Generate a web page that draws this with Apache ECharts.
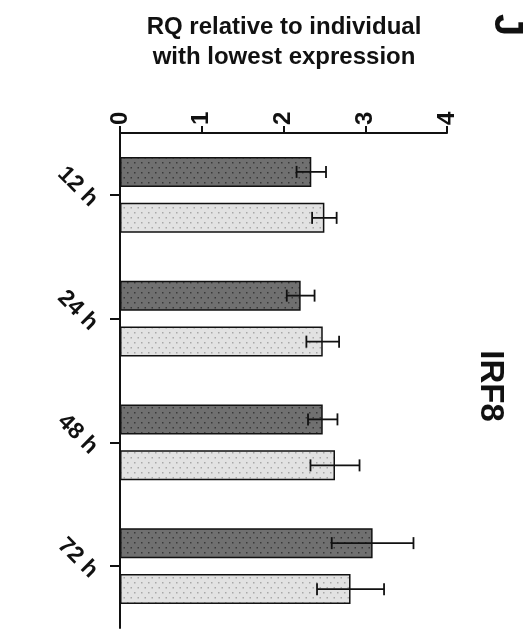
<!DOCTYPE html>
<html>
<head>
<meta charset="utf-8">
<script src="https://cdn.jsdelivr.net/npm/echarts@6/dist/echarts.min.js"></script>
<style>
  html, body { margin: 0; padding: 0; background: #fff; }
  #chart { width: 532px; height: 630px; }
</style>
</head>
<body>
<div id="chart"></div>
<script>
// IRF8 expression over time, two groups per time point (mean ± error)
const categories = ['12 h', '24 h', '48 h', '72 h'];
const darkMean = [2.34, 2.21, 2.48, 3.09];
const darkErr = [0.18, 0.17, 0.18, 0.50];
const lightMean = [2.50, 2.48, 2.63, 2.82];
const lightErr = [0.15, 0.20, 0.30, 0.41];
const valueTicks = [0, 1, 2, 3, 4];

const FONT = '"Liberation Sans", Arial, sans-serif';

// small stippled tile used as bar fill
function dotPattern(bg, dot) {
  const c = document.createElement('canvas');
  c.width = 7; c.height = 10;
  const ctx = c.getContext('2d');
  ctx.fillStyle = bg;
  ctx.fillRect(0, 0, 7, 10);
  ctx.fillStyle = dot;
  ctx.fillRect(1, 2, 1.5, 1.5);
  ctx.fillRect(4.5, 7, 1.5, 1.5);
  return { image: c, repeat: 'repeat' };
}

const BAR_W = 30;
const OFFSET = 23; // distance from category centre to each bar centre

function errorSeries(name, means, errs, shift) {
  return {
    name: name + ' error',
    type: 'custom',
    z: 10,
    data: means.map((m, i) => [i, m, errs[i]]),
    renderItem(params, api) {
      const idx = api.value(0);
      const m = api.value(1);
      const e = api.value(2);
      const lo = api.coord([m - e, idx]);
      const hi = api.coord([m + e, idx]);
      const y = lo[1] + shift;
      const cap = 6;
      const style = { stroke: '#111', lineWidth: 1.8 };
      return {
        type: 'group',
        children: [
          { type: 'line', shape: { x1: lo[0], y1: y, x2: hi[0], y2: y }, style },
          { type: 'line', shape: { x1: lo[0], y1: y - cap, x2: lo[0], y2: y + cap }, style },
          { type: 'line', shape: { x1: hi[0], y1: y - cap, x2: hi[0], y2: y + cap }, style }
        ]
      };
    }
  };
}

const chart = echarts.init(document.getElementById('chart'), null, { renderer: 'canvas' });

chart.setOption({
  animation: false,
  backgroundColor: '#fff',
  title: {
    text: 'RQ relative to individual\nwith lowest expression',
    left: 279,
    top: 7,
    textAlign: 'center',
    textStyle: { fontFamily: FONT, fontSize: 24, fontWeight: 'bold', color: '#111', lineHeight: 30 }
  },
  graphic: [
    {
      type: 'text', x: 506, y: 25, rotation: -Math.PI / 2,
      style: { text: 'J', fontFamily: FONT, fontSize: 40, fontWeight: 'bold', fill: '#111', align: 'center', verticalAlign: 'middle' }
    },
    {
      type: 'text', x: 490, y: 386, rotation: -Math.PI / 2,
      style: { text: 'IRF8', fontFamily: FONT, fontSize: 33, fontWeight: 'bold', fill: '#111', align: 'center', verticalAlign: 'middle' }
    }
  ],
  grid: { left: 120, right: 85, top: 133, bottom: 2, containLabel: false },
  xAxis: {
    type: 'value',
    position: 'top',
    min: valueTicks[0],
    max: valueTicks[valueTicks.length - 1],
    interval: 1,
    splitLine: { show: false },
    axisLine: { show: true, lineStyle: { color: '#111', width: 2 } },
    axisTick: { show: true, length: 7, lineStyle: { color: '#111', width: 2 } },
    axisLabel: {
      rotate: -90, margin: 8,
      fontFamily: FONT, fontSize: 24, fontWeight: 'bold', color: '#111',
      formatter: v => String(v)
    }
  },
  yAxis: {
    type: 'category',
    data: categories,
    inverse: true,
    position: 'left',
    axisLine: { show: true, lineStyle: { color: '#111', width: 2 } },
    axisTick: { show: true, alignWithLabel: true, length: 10, lineStyle: { color: '#111', width: 2 } },
    axisLabel: {
      rotate: -45, margin: 18, verticalAlign: 'top',
      fontFamily: FONT, fontSize: 23, fontWeight: 'bold', color: '#111'
    }
  },
  series: [
    {
      name: 'Group 1',
      type: 'bar',
      data: darkMean,
      barWidth: BAR_W,
      barGap: '53%',
      itemStyle: { color: dotPattern('#707070', '#3a3a3a'), borderColor: '#111', borderWidth: 1.5 }
    },
    {
      name: 'Group 2',
      type: 'bar',
      data: lightMean,
      barWidth: BAR_W,
      barGap: '53%',
      itemStyle: { color: dotPattern('#e2e2e2', '#a8a8a8'), borderColor: '#111', borderWidth: 1.5 }
    },
    errorSeries('Group 1', darkMean, darkErr, -OFFSET),
    errorSeries('Group 2', lightMean, lightErr, OFFSET)
  ]
});
</script>
</body>
</html>
